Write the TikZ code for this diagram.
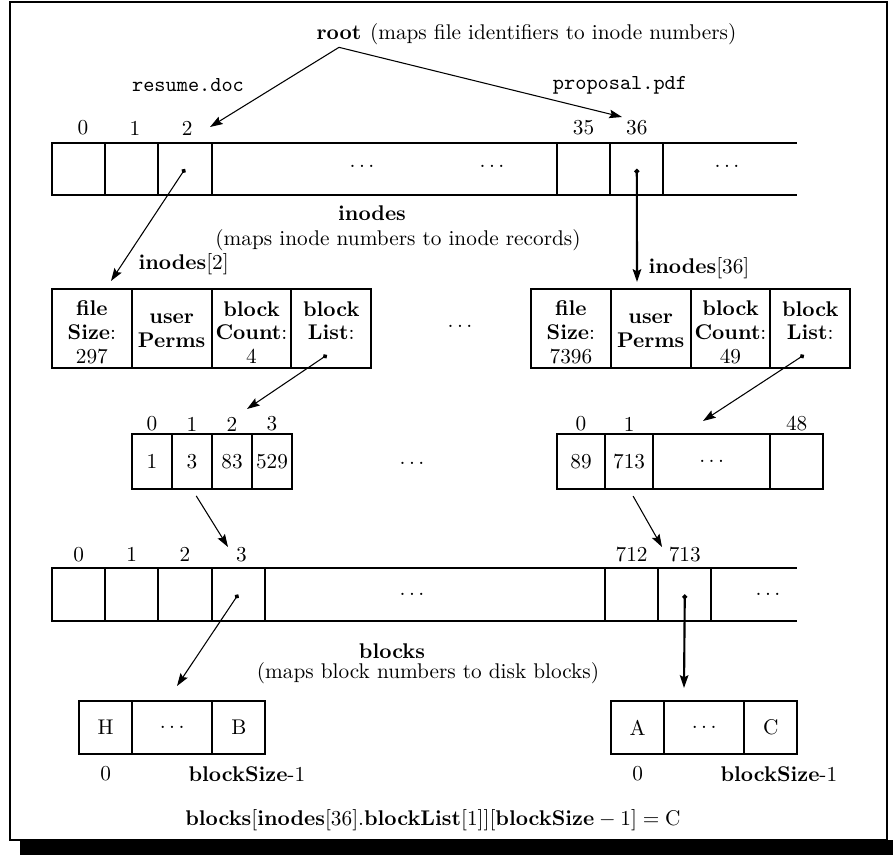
\documentclass[tikz,border=0pt]{standalone}
\usepackage{amsmath}
\usepackage{amssymb}
\usepackage{tikz}
\usetikzlibrary{positioning,arrows.meta}

\newcommand{\rectop}{\rule{0pt}{10.7pt}}
\newcommand{\recmid}{\rule{0pt}{6.4pt}}

\begin{document}
\begin{tikzpicture}[x=0.47pt, y=-0.47pt]
  \tikzset{
    cell/.style={draw, rectangle, line width=1pt, inner sep=0pt, outer sep=0pt, align=center},
    arrcell/.style={cell, minimum width=25pt, minimum height=24.4pt},
    reccell/.style={cell, minimum width=37.5pt, minimum height=37.1pt},
    lstcell/.style={cell, minimum width=18.8pt, minimum height=25.9pt},
    blkcell/.style={cell, minimum width=25pt, minimum height=24.9pt},
    idx/.style={inner sep=0pt},
    link/.style={line width=0.5pt, -{Stealth[length=6pt, width=4pt, inset=1pt]}},
    ptr/.style={line width=0.5pt, {Circle[length=2.2pt]}-{Stealth[length=6pt, width=4pt, inset=1pt]}},
    bold ptr/.style={ptr, line width=1pt}
  }

  \useasboundingbox (0,0) rectangle (893,855);
  \fill (20,840) rectangle (893,855);
  \draw[line width=1pt] (10,2) rectangle (887,840);

  \node (root) at (339,33) {\textbf{root}};
  \node[base right=-3pt of root] (rootnote) {(maps file identifiers to inode numbers)};
  \node (resume) at (188,85) {\texttt{resume.doc}};
  \node (proposal) at (620,85) {\texttt{proposal.pdf}};

  \node[arrcell, anchor=north west] (ino0) at (52,143) {};
  \node[arrcell, right=0pt of ino0] (ino1) {};
  \node[arrcell, right=0pt of ino1] (ino2) {};
  \node[arrcell, anchor=north west] (ino35) at (557,143) {};
  \node[arrcell, right=0pt of ino35] (ino36) {};
  \coordinate (inoend) at (797,143);
  \draw[line width=1pt] (ino2.north east) -- (ino35.north west) (ino2.south east) -- (ino35.south west);
  \draw[line width=1pt] (ino36.north east) -- (inoend) (ino36.south east) -- (inoend |- ino36.south);
  \node (inodotsa) at (362,166) {$\ldots$};
  \node (inodotsb) at (492,166) {$\ldots$};
  \node (inodotsc) at (727,166) {$\ldots$};
  \node[idx, above=3.5pt of ino0, xshift=2pt] (ino0lbl) {0};
  \node[idx, above=3.5pt of ino1, xshift=1.5pt] (ino1lbl) {1};
  \node[idx, above=3.5pt of ino2, xshift=1pt] (ino2lbl) {2};
  \node[idx, above=3.5pt of ino35] (ino35lbl) {35};
  \node[idx, above=3.5pt of ino36] (ino36lbl) {36};
  \node (inotitle) at (372,213) {\textbf{inodes}};
  \node (inonote) at (398,240) {(maps inode numbers to inode records)};

  \node[anchor=west] (rec2lbl) at (131,264) {\textbf{inodes}[2]};
  \node[reccell, anchor=north west] (rec2a) at (52,289) {\rectop\textbf{file}\\[-0.8pt]\textbf{Size}:\\[-0.8pt]297};
  \node[reccell, right=0pt of rec2a] (rec2b) {\recmid\textbf{user}\\[-0.8pt]\textbf{Perms}};
  \node[reccell, right=0pt of rec2b] (rec2c) {\rectop\textbf{block}\\[-0.8pt]\textbf{Count}:\\[-0.8pt]4};
  \node[reccell, right=0pt of rec2c] (rec2d) {\rectop\textbf{block}\\[-0.8pt]\textbf{List}:\\[-0.8pt]\phantom{4}};
  \node (recdots) at (460,326) {$\ldots$};
  \node[anchor=west] (rec36lbl) at (641,268) {\textbf{inodes}[36]};
  \node[reccell, anchor=north west] (rec36a) at (531,289) {\rectop\textbf{file}\\[-0.8pt]\textbf{Size}:\\[-0.8pt]7396};
  \node[reccell, right=0pt of rec36a] (rec36b) {\recmid\textbf{user}\\[-0.8pt]\textbf{Perms}};
  \node[reccell, right=0pt of rec36b] (rec36c) {\rectop\textbf{block}\\[-0.8pt]\textbf{Count}:\\[-0.8pt]49};
  \node[reccell, right=0pt of rec36c] (rec36d) {\rectop\textbf{block}\\[-0.8pt]\textbf{List}:\\[-0.8pt]\phantom{4}};

  \node[lstcell, anchor=north west] (lst2a) at (132,434) {1};
  \node[lstcell, right=0pt of lst2a] (lst2b) {3};
  \node[lstcell, right=0pt of lst2b] (lst2c) {83};
  \node[lstcell, right=0pt of lst2c] (lst2d) {529};
  \node[idx, above=1.2pt of lst2a] (lst2albl) {0};
  \node[idx, above=1.2pt of lst2b] (lst2blbl) {1};
  \node[idx, above=1.2pt of lst2c] (lst2clbl) {2};
  \node[idx, above=1.2pt of lst2d] (lst2dlbl) {3};
  \node (lstdots) at (412,463) {$\ldots$};
  \node[lstcell, minimum width=22.6pt, anchor=north west] (lst36a) at (557,434) {89};
  \node[lstcell, minimum width=22.6pt, right=0pt of lst36a] (lst36b) {713};
  \node[lstcell, minimum width=55pt, right=0pt of lst36b] (lst36c) {$\ldots$};
  \node[lstcell, minimum width=24.9pt, right=0pt of lst36c] (lst36d) {};
  \node[idx, above=1.2pt of lst36a] (lst36albl) {0};
  \node[idx, above=1.2pt of lst36b] (lst36blbl) {1};
  \node[idx, above=1.2pt of lst36d] (lst36dlbl) {48};

  \node[blkcell, anchor=north west] (blk0) at (52,568) {};
  \node[blkcell, right=0pt of blk0] (blk1) {};
  \node[blkcell, right=0pt of blk1] (blk2) {};
  \node[blkcell, right=0pt of blk2] (blk3) {};
  \node[blkcell, anchor=north west] (blk712) at (605,568) {};
  \node[blkcell, right=0pt of blk712] (blk713) {};
  \coordinate (blkend) at (797,568);
  \draw[line width=1pt] (blk3.north east) -- (blk712.north west) (blk3.south east) -- (blk712.south west);
  \draw[line width=1pt] (blk713.north east) -- (blkend) (blk713.south east) -- (blkend |- blk713.south);
  \node (blkdotsa) at (412,594) {$\ldots$};
  \node (blkdotsb) at (768,594) {$\ldots$};
  \node[idx, above=2.8pt of blk0] (blk0lbl) {0};
  \node[idx, above=2.8pt of blk1] (blk1lbl) {1};
  \node[idx, above=2.8pt of blk2] (blk2lbl) {2};
  \node[idx, above=2.8pt of blk3, xshift=1.5pt] (blk3lbl) {3};
  \node[idx, above=2.8pt of blk712] (blk712lbl) {712};
  \node[idx, above=2.8pt of blk713] (blk713lbl) {713};
  \node (blktitle) at (392,651) {\textbf{blocks}};
  \node (blknote) at (428,673) {(maps block numbers to disk blocks)};

  \node[blkcell, anchor=north west] (disk2a) at (79,701) {H};
  \node[blkcell, minimum width=37.6pt, right=0pt of disk2a] (disk2b) {$\ldots$};
  \node[blkcell, right=0pt of disk2b] (disk2c) {B};
  \node[idx, below=5.6pt of disk2a] (disk2albl) {0};
  \node[idx, below=5.6pt of disk2c, xshift=3.8pt] (disk2clbl) {\textbf{blockSize}-1};
  \node[blkcell, anchor=north west] (disk36a) at (611,701) {A};
  \node[blkcell, minimum width=37.6pt, right=0pt of disk36a] (disk36b) {$\ldots$};
  \node[blkcell, right=0pt of disk36b] (disk36c) {C};
  \node[idx, below=5.6pt of disk36a] (disk36albl) {0};
  \node[idx, below=5.6pt of disk36c, xshift=3.8pt] (disk36clbl) {\textbf{blockSize}-1};

  \node (formula) at (433,820) {$\mathbf{blocks}[\mathbf{inodes}[36].\mathbf{blockList}[1]][\mathbf{blockSize}-1]=\mathrm{C}$};

  \coordinate (resumetip) at (210,127);
  \coordinate (proposaltip) at (622,117);
  \coordinate (rec2tip) at (111,281);
  \coordinate (rec36tip) at (637,282);
  \coordinate (lst2dot) at (327,355);
  \coordinate (lst2tip) at (247,409);
  \coordinate (lst36dot) at (804,355);
  \coordinate (lst36tip) at (703,421);
  \coordinate (blk3tip) at (228,547);
  \coordinate (blk713tip) at (662,547);
  \coordinate (disk2tip) at (177,686);
  \coordinate (disk36tip) at (684,688);

  \draw[link] (root.south) -- (resumetip);
  \draw[link] (root.south) -- (proposaltip);
  \draw[ptr] (ino2.center) -- (rec2tip);
  \draw[bold ptr] (ino36.center) -- (rec36tip);
  \draw[ptr] (lst2dot) -- (lst2tip);
  \draw[ptr] (lst36dot) -- (lst36tip);
  \draw[link, shorten <=3.8pt] (lst2b.south) -- (blk3tip);
  \draw[link, shorten <=3.8pt] (lst36b.south) -- (blk713tip);
  \draw[ptr] (blk3.center) -- (disk2tip);
  \draw[bold ptr] (blk713.center) -- (disk36tip);
\end{tikzpicture}
\end{document}
